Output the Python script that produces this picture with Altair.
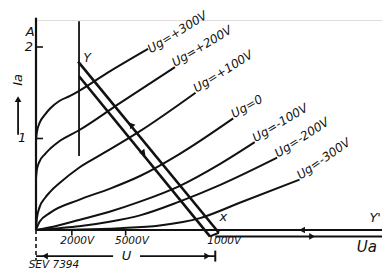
import altair as alt
import pandas as pd

# ---- characteristic curves (anode voltage U in V, anode current Ia in A) ----
ug_labels = ["Ug=+300V", "Ug=+200V", "Ug=+100V", "Ug=0", "Ug=-100V", "Ug=-200V", "Ug=-300V"]

U_p300 = [0, 50, 200, 500, 800, 1300, 1900, 2400, 4000, 6250]
I_p300 = [0.98, 1.07, 1.17, 1.26, 1.33, 1.41, 1.465, 1.52, 1.72, 1.98]

U_p200 = [0, 50, 200, 500, 800, 1300, 2400, 4700, 7750]
I_p200 = [0.57, 0.66, 0.75, 0.83, 0.89, 0.97, 1.09, 1.39, 1.78]

U_p100 = [0, 50, 200, 500, 800, 1300, 2400, 3600, 5800, 8900]
I_p100 = [0, 0.13, 0.25, 0.35, 0.42, 0.51, 0.68, 0.82, 1.08, 1.50]

U_0 = [0, 200, 800, 2400, 4100, 5800, 8000, 11000]
I_0 = [0, 0.09, 0.19, 0.33, 0.45, 0.59, 0.83, 1.22]

U_m100 = [0, 800, 2400, 4100, 5800, 8000, 10250, 12200]
I_m100 = [0, 0.03, 0.11, 0.20, 0.31, 0.48, 0.72, 0.96]

U_m200 = [0, 1300, 2400, 4100, 5800, 8000, 10250, 13450]
I_m200 = [0, 0.02, 0.04, 0.09, 0.16, 0.31, 0.49, 0.79]

U_m300 = [0, 2450, 4700, 6900, 9150, 11400, 14700]
I_m300 = [0, 0.005, 0.02, 0.05, 0.13, 0.30, 0.55]

curve_U = [U_p300, U_p200, U_p100, U_0, U_m100, U_m200, U_m300]
curve_I = [I_p300, I_p200, I_p100, I_0, I_m100, I_m200, I_m300]

# label anchor (start of text) and slope angle (deg, clockwise)
label_U = [6400, 7750, 8950, 11050, 12250, 13500, 14750]
label_I = [1.93, 1.78, 1.50, 1.22, 0.96, 0.79, 0.55]
label_angle = [328, 329, 328, 330, 329, 327, 325]

# axis ticks
y_ticks = [1, 2]
x_ticks = [2000, 5000]
x_tick_labels = ["2000V", "5000V", "1000V"]
x_tick_label_U = [2300, 5350, 10500]

U_MAX = 19300
I_MAX = 2.295

rows = []
for name, us, is_ in zip(ug_labels, curve_U, curve_I):
    for k, (u, i) in enumerate(zip(us, is_)):
        rows.append({"U": u, "I": i, "Ug": name, "k": k})
curves = pd.DataFrame(rows)

labels = pd.DataFrame({"U": label_U, "I": label_I, "t": ug_labels, "a": label_angle})

DIM = -0.285
IA_U = -1000

# straight line work: axes, load line, work line, ticks, dimension line
seg = pd.DataFrame([
    (0, 0, U_MAX, 0, 2.0),                 # Ua axis (Y' line)
    (10000, -0.07, U_MAX, -0.07, 2.0),     # Ua line
    (0, 0, 0, 2.32, 2.2),                  # Ia axis
    (2400, 0.81, 2400, 2.28, 1.8),         # Y line
    (2350, 1.84, 10200, -0.03, 2.6),       # load line (upper)
    (2400, 1.68, 9700, -0.07, 2.6),        # load line (lower)
    (9700, -0.07, 10200, -0.03, 2.0),
    (0, y_ticks[0], 390, y_ticks[0], 1.6), (0, y_ticks[1], 390, y_ticks[1], 1.6),
    (x_ticks[0], 0, x_ticks[0], -0.06, 1.6), (x_ticks[1], 0, x_ticks[1], -0.06, 1.6),
    (0, DIM, 4300, DIM, 1.6), (5800, DIM, 10000, DIM, 1.6),
    (10000, DIM + 0.06, 10000, DIM - 0.06, 2.0),
    (IA_U, 1.04, IA_U, 1.40, 1.8),         # Ia arrow shaft
], columns=["U", "I", "U2", "I2", "w"])

dash = pd.DataFrame({"U": [0], "I": [0], "U2": [0], "I2": [DIM - 0.05]})

arrows = pd.DataFrame({
    "U": [5300, 6000, 14840, 15400, 500, 9550, IA_U],
    "I": [1.15, 0.84, 0, -0.07, DIM, DIM, 1.43],
    "a": [320, 140, 270, 90, 270, 90, 0],
})

ann = pd.DataFrame({
    "U": [-330, -400, -780, 2850, 10450, 5050, 18450, 1000] + x_tick_label_U,
    "I": [2.16, 2.0, 1.0, 1.88, 0.145, DIM, -0.19, -0.378] + [-0.125] * 3,
    "t": ["A", "2", "1", "Y", "x", "U", "Ua", "SEV 7394"] + x_tick_labels,
    "s": [13, 13, 13, 12, 13, 13, 15, 10.5] + [10.5] * 3,
})

xs = alt.Scale(domain=[0, U_MAX], nice=False, zero=False)
ys = alt.Scale(domain=[0, I_MAX], nice=False, zero=False)
X = lambda f="U": alt.X(f"{f}:Q", scale=xs, axis=None)
Y = lambda f="I": alt.Y(f"{f}:Q", scale=ys, axis=None)
FONT = "DejaVu Sans"

lines = alt.Chart(curves).mark_line(color="#111", strokeWidth=2, interpolate="monotone").encode(
    x=X(), y=Y(), detail="Ug:N", order="k:Q")

segs = alt.Chart(seg).mark_rule(color="#111").encode(
    x=X(), y=Y(), x2="U2:Q", y2="I2:Q", strokeWidth=alt.StrokeWidth("w:Q", scale=None))

dashed = alt.Chart(dash).mark_rule(color="#111", strokeWidth=1.6, strokeDash=[4, 3]).encode(
    x=X(), y=Y(), x2="U2:Q", y2="I2:Q")

heads = alt.Chart(arrows).mark_point(shape="triangle-up", filled=True, color="#111", size=45, opacity=1).encode(
    x=X(), y=Y(), angle=alt.Angle("a:Q", scale=None))

curve_text = alt.Chart(labels).mark_text(align="left", baseline="alphabetic", font=FONT,
                                         fontStyle="italic", fontSize=12, color="#111").encode(
    x=X(), y=Y(), text="t:N", angle=alt.Angle("a:Q", scale=None))

ann_text = alt.Chart(ann).mark_text(align="center", baseline="middle", font=FONT,
                                    fontStyle="italic", color="#111").encode(
    x=X(), y=Y(), text="t:N", size=alt.Size("s:Q", scale=None))

yp = alt.Chart(pd.DataFrame({"U": [U_MAX - 60], "I": [0.13], "t": ["Y'"]})).mark_text(
    align="right", baseline="middle", font=FONT, fontStyle="italic", fontSize=13, color="#111").encode(
    x=X(), y=Y(), text="t:N")

ia = alt.Chart(pd.DataFrame({"U": [IA_U], "I": [1.64], "t": ["Ia"]})).mark_text(
    align="center", baseline="middle", font=FONT, fontStyle="italic", fontSize=13, angle=270,
    color="#111").encode(x=X(), y=Y(), text="t:N")

chart = alt.layer(lines, segs, dashed, heads, curve_text, ann_text, yp, ia).properties(
    width=346, height=210,
    autosize=alt.AutoSizeParams(type="none"),
    padding={"left": 28, "top": 12, "right": 0, "bottom": 40},
).configure_view(stroke=None).configure(background="white")

chart.save("out.html", embed_options={"renderer": "svg", "actions": False})
